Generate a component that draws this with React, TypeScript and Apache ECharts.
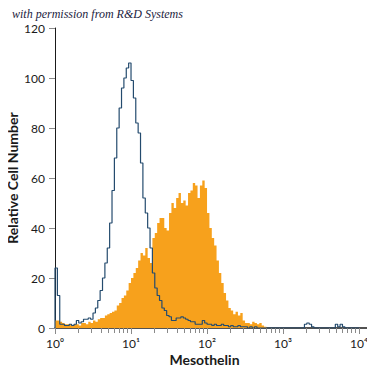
import React, { useEffect, useRef } from "react";
import * as echarts from "echarts";

// Histogram bins: 32 bins per decade, spanning 10^0 .. 10^4
const BINS_PER_DECADE = 32;

// Isotype control (open, blue outline)
const controlCounts = [
  24, 13, 1.5, 1.5, 1, 1, 1.5, 1, 1.5, 3, 2, 2.5, 3.5, 3.5, 4, 3.5,
  6, 8, 11, 15, 20, 26, 32, 42, 55, 68, 80, 88, 96, 100, 104, 106,
  99, 92, 82, 78, 66, 52, 46, 40, 32, 22, 16, 13, 11, 8, 7, 5,
  4.5, 3, 3, 4, 4, 4.5, 4, 3.5, 3, 2.5, 2.5, 1.5, 1.5, 1.5, 3, 2,
  1.5, 1.5, 1, 1.5, 1, 1, 1.5, 1, 1, 0.5, 1, 0.5, 0.5, 1, 0.5, 0.5,
  0.5, 0, 0.5, 0, 0.5, 0, 0, 0, 0, 0, 0, 0, 0, 0, 0, 0,
  0, 0, 0, 0, 0, 0, 0, 0, 0, 1.5, 2, 1.5, 0.5, 0, 0, 0,
  0, 0, 0, 0, 0, 0, 1.5, 0.5, 1.5, 0.5, 0, 0, 0, 0, 0, 0,
];

// Mesothelin antibody stained (filled orange)
const stainedCounts = [
  3, 3, 2.5, 2, 1.5, 1.5, 1.5, 1, 1.5, 1.5, 1, 2, 2, 1.5, 2.5, 2,
  3, 2.5, 3.5, 4, 4, 5, 5.5, 6, 6.5, 7, 9, 10, 12, 13, 15, 18,
  20, 22, 24, 27, 30, 29, 32, 28, 26, 36, 38, 42, 44, 44, 40, 39,
  46, 50, 48, 52, 54, 50, 51, 49, 54, 55, 58, 57, 52, 57, 59, 56,
  46, 40, 36, 33, 27, 22, 18, 14, 11, 8, 7, 5.5, 6.5, 5, 6, 3,
  2, 2, 1.5, 2.5, 2, 1.5, 2, 1, 0.5, 0, 0, 0, 0, 0, 0, 0,
  0, 0, 0, 0, 0, 0, 0, 0, 0, 0, 0, 0, 0, 0, 0, 0,
  0, 0, 0, 0, 0, 0, 0, 0, 0, 0, 0, 0, 0, 0, 0, 0,
];

const majorTicks = [1, 10, 100, 1000, 10000];
const majorTickLabels = ["10\u2070", "10\u00B9", "10\u00B2", "10\u00B3", "10\u2074"];
const minorTicks = [
  2, 3, 4, 5, 6, 7, 8, 9,
  20, 30, 40, 50, 60, 70, 80, 90,
  200, 300, 400, 500, 600, 700, 800, 900,
  2000, 3000, 4000, 5000, 6000, 7000, 8000, 9000,
];
const yTicks = [0, 20, 40, 60, 80, 100, 120];

const xTitle = "Mesothelin";
const yTitle = "Relative Cell Number";
const credit = "with permission from R&D Systems";

function stepPoints(counts: number[], startAtZero: boolean) {
  const pts: number[][] = [];
  const edge = (i: number) => Math.pow(10, i / BINS_PER_DECADE);
  if (startAtZero) pts.push([edge(0), 0]);
  counts.forEach((v, i) => {
    pts.push([edge(i), v]);
    pts.push([edge(i + 1), v]);
  });
  return pts;
}

const narrow = "Lato, 'Noto Sans', sans-serif";

export default function App() {
  const ref = useRef<HTMLDivElement>(null);
  useEffect(() => {
    if (!ref.current) return;
    const chart = echarts.init(ref.current, undefined, { renderer: "svg" });
    chart.setOption({
      animation: false,
      backgroundColor: "#ffffff",
      title: {
        text: credit,
        left: 7,
        top: 3,
        textStyle: {
          fontFamily: "'Liberation Serif', 'DejaVu Serif', serif",
          fontStyle: "italic",
          fontWeight: "normal",
          fontSize: 12,
          color: "#1c2240",
        },
      },
      grid: { left: 55, right: 7, top: 28, bottom: 47, outerBoundsMode: "none", containLabel: false },
      xAxis: [
        {
          type: "log",
          logBase: 10,
          min: 1,
          max: 13100,
          name: xTitle,
          nameLocation: "middle",
          nameGap: 24,
          nameMoveOverlap: false,
          nameTextStyle: {
            fontFamily: narrow,
            fontWeight: "bold",
            fontSize: 14,
            color: "#1a1a1a",
            padding: [0, 14, 0, 0],
          },
          axisLine: { show: true, lineStyle: { color: "#1a1a1a", width: 1.5 } },
          axisTick: {
            show: true,
            length: 6,
            customValues: majorTicks,
            lineStyle: { color: "#8a8a8a", width: 1 },
          },
          axisLabel: {
            customValues: majorTicks,
            margin: 9,
            fontFamily: narrow,
            fontSize: 12,
            color: "#1a1a1a",
            formatter: (v: number) => {
              const idx = majorTicks.findIndex((t) => Math.abs(t - v) / t < 1e-6);
              return idx >= 0 ? majorTickLabels[idx] : "";
            },
          },
          splitLine: { show: false },
          minorTick: { show: false },
        },
        {
          type: "log",
          logBase: 10,
          min: 1,
          max: 13100,
          position: "bottom",
          offset: 0,
          axisLine: { show: false },
          axisLabel: { show: false },
          axisTick: {
            show: true,
            length: 5,
            customValues: minorTicks,
            lineStyle: { color: "#8a8a8a", width: 1 },
          },
          splitLine: { show: false },
        },
      ],
      yAxis: {
        type: "value",
        min: 0,
        max: 120,
        interval: 20,
        name: yTitle,
        nameLocation: "middle",
        nameGap: 36,
        nameMoveOverlap: false,
        nameTextStyle: {
          fontFamily: narrow,
          fontWeight: "bold",
          fontSize: 14,
          color: "#1a1a1a",
        },
        axisLine: { show: true, lineStyle: { color: "#1a1a1a", width: 1 } },
        axisTick: { show: true, length: 6, lineStyle: { color: "#8a8a8a" } },
        axisLabel: {
          margin: 10,
          fontFamily: narrow,
          fontSize: 12,
          color: "#1a1a1a",
          customValues: yTicks,
        },
        splitLine: { show: false },
      },
      series: [
        {
          type: "line",
          xAxisIndex: 0,
          data: stepPoints(stainedCounts, false),
          showSymbol: false,
          symbol: "none",
          lineStyle: { width: 0, color: "#F7A11C" },
          itemStyle: { color: "#F7A11C" },
          areaStyle: { color: "#F7A11C", opacity: 1 },
          z: 2,
        },
        {
          type: "line",
          xAxisIndex: 0,
          data: stepPoints(controlCounts, true),
          showSymbol: false,
          symbol: "none",
          lineStyle: { width: 1.2, color: "#244b6e" },
          itemStyle: { color: "#244b6e" },
          z: 3,
        },
      ],
    });
    return () => chart.dispose();
  }, []);
  return <div ref={ref} style={{ width: 375, height: 375, margin: -8 }} />;
}
